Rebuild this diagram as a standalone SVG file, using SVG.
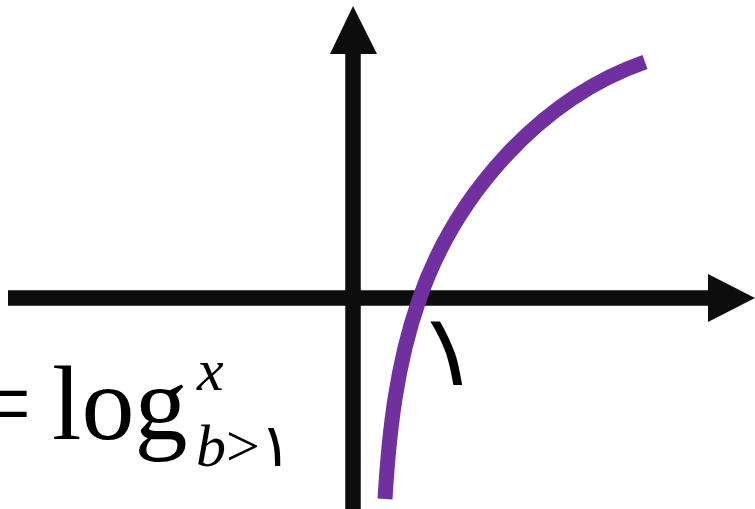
<svg xmlns="http://www.w3.org/2000/svg" width="755" height="509" viewBox="0 0 755 509">
<style>
.axis{stroke:#0d0d0d;stroke-width:15.5;fill:none}
.head{fill:#0d0d0d}
.curve{stroke:#7030a0;stroke-width:15;fill:none;stroke-linecap:butt}
.serif{font-family:"Liberation Serif","DejaVu Serif",serif;fill:#000}
.ar{font-family:"DejaVu Sans","Noto Sans",sans-serif;fill:#000}
</style>
<rect width="755" height="509" fill="#fff"/>
<g id="axes">
<line class="axis" x1="8" y1="298" x2="710" y2="298"/>
<polygon class="head" points="708,274 755,298 708,322"/>
<line class="axis" x1="353" y1="509" x2="353" y2="52"/>
<polygon class="head" points="330,54 353,6 377,54"/>
</g>
<g id="curve">
<path class="curve" d="M385,499 C389,433 396,366 419,300 C455,196 539,99 645,62"/>
</g>
<g id="labels">
<text class="serif" x="-28" y="439" font-size="106">=</text>
<text class="serif" x="52" y="439" font-size="106">log</text>
<text class="serif" x="197" y="390" font-size="60" font-style="italic">x</text>
<text class="serif" x="196" y="466" font-size="60"><tspan font-style="italic">b</tspan><tspan>&gt;</tspan><tspan class="ar">١</tspan></text>
<text class="ar" transform="translate(428,385) skewX(10)" x="0" y="0" font-size="100">١</text>
</g>
</svg>
